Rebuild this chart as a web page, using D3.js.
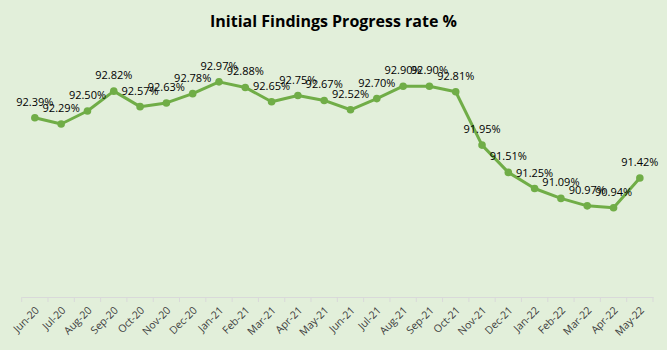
<!DOCTYPE html>
<html><head><meta charset="utf-8">
<script src="https://cdn.jsdelivr.net/npm/d3@7"></script>
<style>
html,body{margin:0;padding:0;background:#E2EFDA;}
svg{display:block;}
</style></head>
<body>
<svg id="chart" width="667" height="350"></svg>
<script>
const categories = ["Jun-20","Jul-20","Aug-20","Sep-20","Oct-20","Nov-20","Dec-20","Jan-21","Feb-21","Mar-21","Apr-21","May-21","Jun-21","Jul-21","Aug-21","Sep-21","Oct-21","Nov-21","Dec-21","Jan-22","Feb-22","Mar-22","Apr-22","May-22"];
const values = [92.39,92.29,92.50,92.82,92.57,92.63,92.78,92.97,92.88,92.65,92.75,92.67,92.52,92.70,92.90,92.90,92.81,91.95,91.51,91.25,91.09,90.97,90.94,91.42];
const titleText = "Initial Findings Progress rate %";
const yDomain = [89.5, 93.5];

const svg = d3.select("#chart");
const W = 667, H = 350;
svg.append("rect").attr("width", W).attr("height", H).attr("fill", "#E2EFDA");

const m = {left: 21.7, right: 14, top: 49, bottom: 53};
const x = d3.scaleBand().domain(categories).range([m.left, W - m.right]).paddingInner(0).paddingOuter(0);
const y = d3.scaleLinear().domain(yDomain).range([H - m.bottom, m.top]);

svg.append("text").attr("x", W / 2).attr("y", 27).attr("text-anchor", "middle")
  .attr("font-family", "Open Sans, Liberation Sans, sans-serif").attr("font-weight", "bold")
  .attr("font-size", 16).attr("fill", "#000").text(titleText);

// x axis
const axisG = svg.append("g").attr("transform", `translate(0,${H - m.bottom})`);
const ax = d3.axisBottom(x).tickSize(0).tickPadding(0);
axisG.call(ax);
axisG.select(".domain").attr("stroke", "#D9D9D9").attr("stroke-width", 1);
const bounds = categories.map(c => x(c)).concat([x(categories[categories.length - 1]) + x.bandwidth()]);
axisG.selectAll(".btick").data(bounds).enter().append("line").attr("class", "btick")
  .attr("x1", d => d).attr("x2", d => d).attr("y1", 0).attr("y2", 5)
  .attr("stroke", "#D9D9D9").attr("stroke-width", 1);
axisG.selectAll(".tick text")
  .attr("font-family", "Open Sans, Liberation Sans, sans-serif").attr("font-size", 10.5).attr("fill", "#404040")
  .attr("text-anchor", "end").attr("dy", 0)
  .attr("transform", "translate(5,14) rotate(-45)");

const cx = d => x(d) + x.bandwidth() / 2;
const pts = categories.map((c, i) => ({c, v: values[i]}));

svg.append("path").datum(pts)
  .attr("d", d3.line().x(d => cx(d.c)).y(d => y(d.v)))
  .attr("fill", "none").attr("stroke", "#70AD47").attr("stroke-width", 3).attr("stroke-linejoin", "round");

svg.selectAll(".pt").data(pts).enter().append("circle")
  .attr("cx", d => cx(d.c)).attr("cy", d => y(d.v)).attr("r", 3.8).attr("fill", "#70AD47");

svg.selectAll(".lbl").data(pts).enter().append("text")
  .attr("x", d => cx(d.c)).attr("y", d => y(d.v) - 12)
  .attr("text-anchor", "middle")
  .attr("font-family", "Open Sans, Liberation Sans, sans-serif").attr("font-size", 11)
  .attr("fill", "#000").text(d => d.v.toFixed(2) + "%");
</script>
</body></html>
